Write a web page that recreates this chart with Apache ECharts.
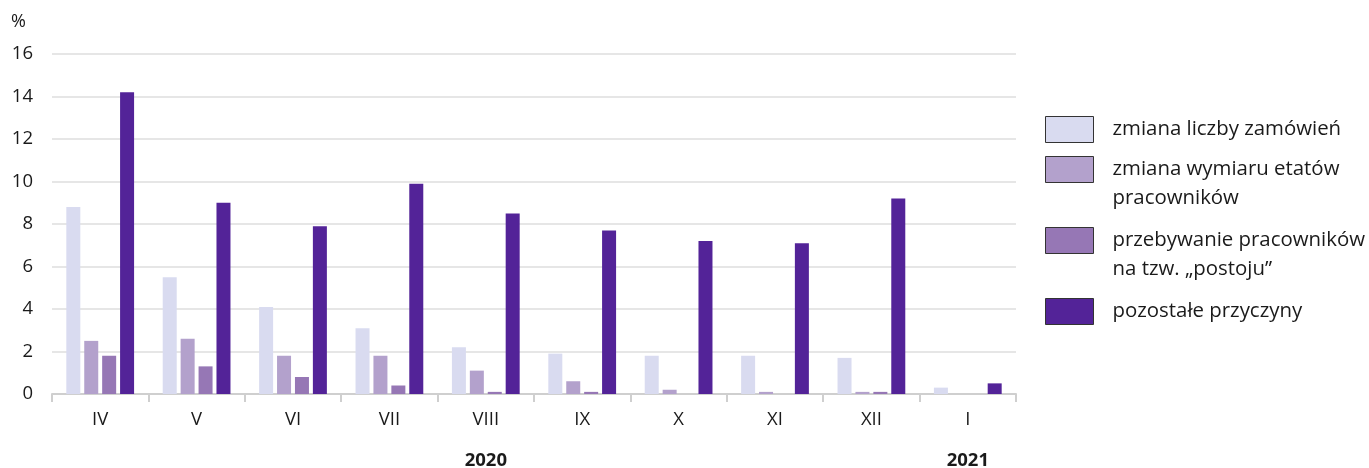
<!DOCTYPE html>
<html><head><meta charset="utf-8">
<script src="https://cdn.jsdelivr.net/npm/echarts@6/dist/echarts.min.js"></script>
<style>html,body{margin:0;padding:0;background:#fff}#c{width:1369px;height:468px}</style>
</head><body><div id="c"></div>
<script>
const categories = ['IV','V','VI','VII','VIII','IX','X','XI','XII','I'];
const yearLabels = ['','','','','','','','','','2020','','','','','','','','','','2021',''];
const seriesNames = ['zmiana liczby zamówień','zmiana wymiaru etatów pracowników','przebywanie pracowników na tzw. „postoju”','pozostałe przyczyny'];
const legendLines = [['zmiana liczby zamówień'],['zmiana wymiaru etatów','pracowników'],['przebywanie pracowników','na tzw. „postoju”'],['pozostałe przyczyny']];
const orders  = [8.8, 5.5, 4.1, 3.1, 2.2, 1.9, 1.8, 1.8, 1.7, 0.3];
const hours   = [2.5, 2.6, 1.8, 1.8, 1.1, 0.6, 0.2, 0.1, 0.1, 0.0];
const standby = [1.8, 1.3, 0.8, 0.4, 0.1, 0.1, 0.0, 0.0, 0.1, 0.0];
const other   = [14.2, 9.0, 7.9, 9.9, 8.5, 7.7, 7.2, 7.1, 9.2, 0.5];
const colors = ['#d9dbf0','#b3a1cc','#9677b5','#532398'];
const values = [orders, hours, standby, other];
const FONT = '"Open Sans", sans-serif';

const legendTops = [115, 126, 197, 297];
const legends = seriesNames.map((n, i) => ({
  orient: 'vertical', left: 1045, top: legendTops[i], padding: 0,
  itemWidth: 48, itemHeight: 26, selectedMode: false, icon: 'rect',
  data: [{name: n, itemStyle: {borderColor: '#333333', borderWidth: 1}}],
  formatter: () => legendLines[i].length > 1 ? '\n' + legendLines[i].join('\n') : legendLines[i][0],
  textStyle: {fontFamily: FONT, fontSize: 20.4, color: '#1a1a1a', lineHeight: 29, padding: [0,0,0,14]}
}));

const chart = echarts.init(document.getElementById('c'), null, {renderer: 'canvas'});
chart.setOption({
  animation: false,
  title: {text: '%', left: 11, top: 13, padding: 0, textStyle: {fontFamily: FONT, fontSize: 18, fontWeight: 'normal', color: '#1a1a1a'}},
  legend: legends,
  grid: {left: 52, right: 353, top: 54, bottom: 74, outerBoundsMode: 'none', containLabel: false},
  xAxis: [{
    type: 'category', data: categories,
    axisLine: {lineStyle: {color: '#cfcfcf', width: 2}},
    axisTick: {show: true, length: 8, lineStyle: {color: '#cfcfcf', width: 2}},
    axisLabel: {fontFamily: FONT, fontSize: 18.5, color: '#1a1a1a', margin: 16}
  }, {
    type: 'category', data: yearLabels, position: 'bottom', boundaryGap: false,
    axisLine: {show: false}, axisTick: {show: false},
    axisLabel: {interval: 0, fontFamily: FONT, fontSize: 18.5, fontWeight: 'bold', color: '#1a1a1a', margin: 57}
  }],
  yAxis: {
    type: 'value', min: 0, max: 16, interval: 2,
    axisLine: {show: false}, axisTick: {show: false},
    splitLine: {lineStyle: {color: '#dedede', width: 1.5}},
    axisLabel: {fontFamily: FONT, fontSize: 18.5, color: '#1a1a1a', margin: 19}
  },
  series: values.map((v, i) => ({
    name: seriesNames[i], type: 'bar', data: v, xAxisIndex: 0,
    barWidth: 14, barGap: '28%', barCategoryGap: '29%',
    itemStyle: {color: colors[i]}
  }))
});
</script></body></html>
